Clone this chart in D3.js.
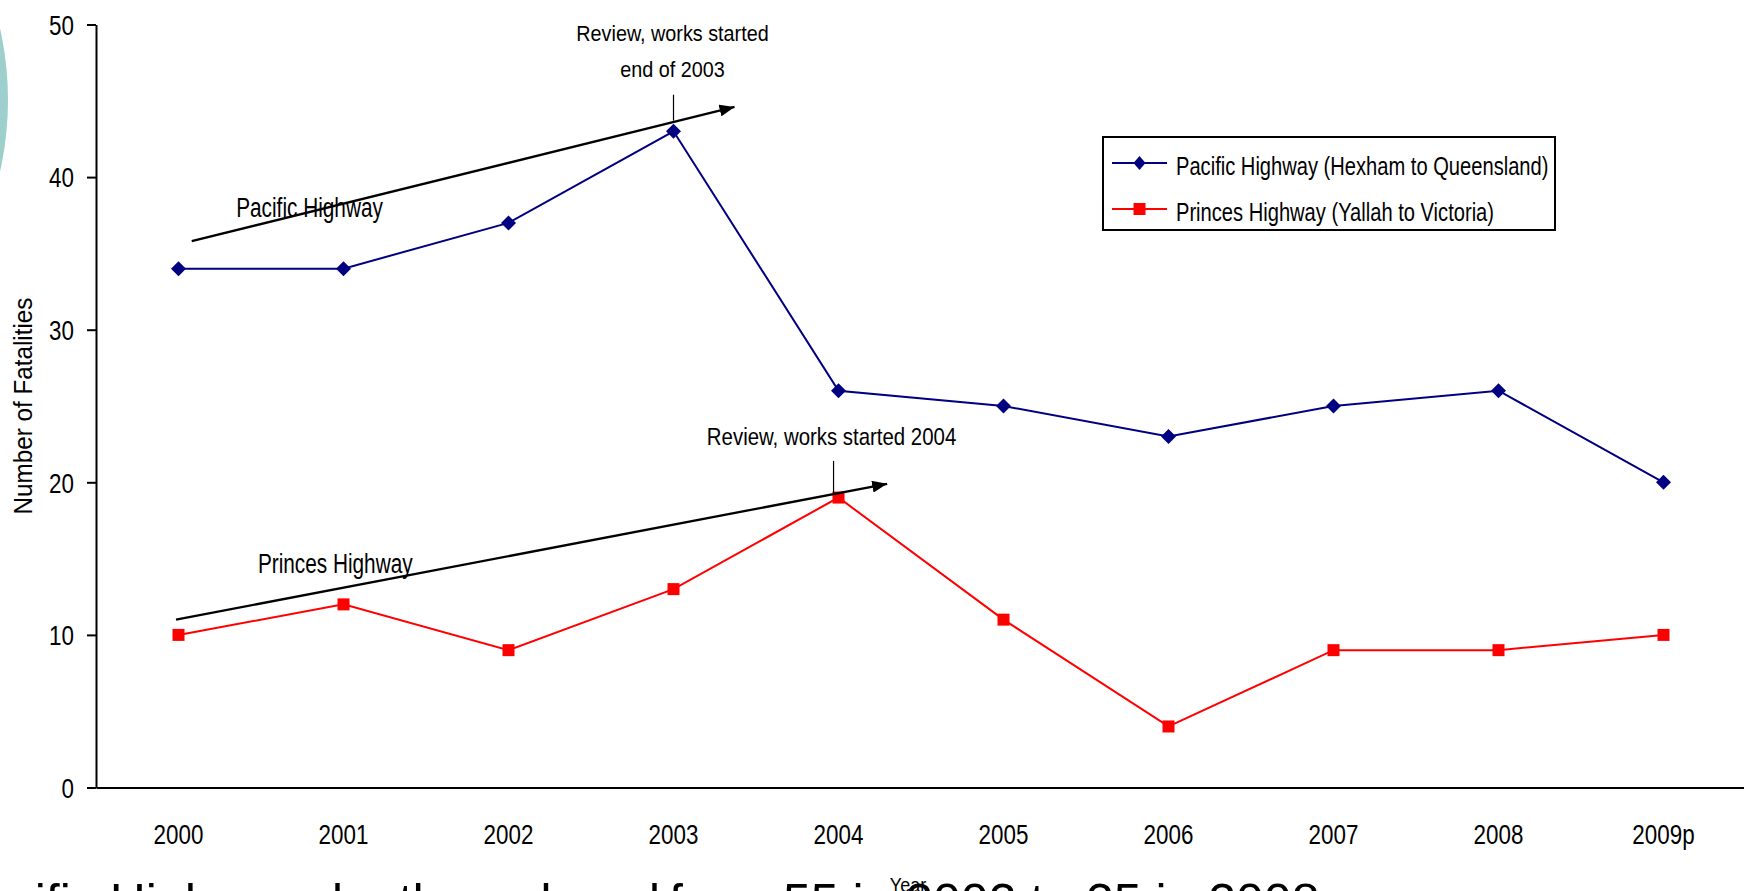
<!DOCTYPE html>
<html>
<head>
    <script src="https://cdnjs.cloudflare.com/ajax/libs/d3/7.8.5/d3.min.js"></script>
    <style>
        body { margin: 0; background: #fff; overflow: hidden; }
        text { font-family: "Liberation Sans", Arial, sans-serif; fill: #000; }
        .series { fill: none; stroke-width: 2; }
        .axis path { stroke: #000; stroke-width: 2; }
        .axis line { stroke: #000; stroke-width: 2; }
    </style>
</head>
<body>
    <svg width="1744" height="891"></svg>
    <script>
        // Data
        const years = ["2000", "2001", "2002", "2003", "2004", "2005", "2006", "2007", "2008", "2009p"];
        const pacific = [34, 34, 37, 43, 26, 25, 23, 25, 26, 20];
        const princes = [10, 12, 9, 13, 19, 11, 4, 9, 9, 10];
        const yTicks = [0, 10, 20, 30, 40, 50];
        const seriesNames = ["Pacific Highway (Hexham to Queensland)", "Princes Highway (Yallah to Victoria)"];

        // Annotations, in [category index, value]
        const arrowPacific = [[0.08, 35.8], [3.37, 44.6]];
        const arrowPrinces = [[-0.015, 11.0], [4.295, 19.9]];
        const tickPacific = [[3.0, 45.4], [3.0, 43.7]];
        const tickPrinces = [[3.97, 21.4], [3.97, 19.2]];
        const notePacific = ["Review, works started", "end of 2003"];
        const notePrinces = ["Review, works started 2004"];
        const labelPacific = { text: "Pacific Highway", at: [0.794, 37.4] };
        const labelPrinces = { text: "Princes Highway", at: [0.95, 14.05] };

        const svg = d3.select("svg");

        svg.append("rect").attr("width", 1744).attr("height", 891).attr("fill", "#fff");

        // slide decoration at the left edge
        svg.append("circle")
            .attr("cx", -317).attr("cy", 100).attr("r", 325)
            .attr("fill", "#9dcfcd");

        // Scales
        const x = d3.scaleBand().domain(years).range([96, 1746]);
        const xi = d3.scaleLinear().domain([-0.5, years.length - 0.5]).range([96, 1746]);
        const y = d3.scaleLinear().domain([0, 50]).range([787.5, 24.5]);

        // squeeze text horizontally (original is a narrow face)
        function squeeze(sel, sx) {
            sel.each(function() {
                const t = d3.select(this);
                const tx = +t.attr("x") || 0;
                t.attr("x", tx / sx).attr("transform", `scale(${sx},1)`);
            });
        }

        // Y axis
        const yAxis = svg.append("g")
            .attr("class", "axis")
            .attr("transform", "translate(96,0)")
            .call(d3.axisLeft(y).tickValues(yTicks).tickSize(9).tickSizeOuter(0).tickPadding(13));
        yAxis.selectAll("text").attr("font-size", 28).attr("font-family", null).attr("dy", "0.35em");
        squeeze(yAxis.selectAll("text"), 0.8);

        // X axis
        const xAxis = svg.append("g")
            .attr("class", "axis")
            .attr("transform", `translate(0,${y(0)})`)
            .call(d3.axisBottom(x).tickSize(0).tickSizeOuter(0).tickPadding(0));
        xAxis.selectAll("text").attr("font-size", 28).attr("font-family", null)
            .attr("dy", null).attr("y", 56.5);
        squeeze(xAxis.selectAll("text"), 0.8);

        // axis titles
        const yTitle = svg.append("g").attr("transform", `translate(32,${(y(0) + y(50)) / 2}) rotate(-90)`);
        yTitle.append("text").attr("text-anchor", "middle").attr("font-size", 26.5)
            .text("Number of Fatalities");
        squeeze(yTitle.selectAll("text"), 0.915);

        // series
        const line = d3.line().x((d, i) => x(years[i]) + x.bandwidth() / 2).y(d => y(d));

        svg.append("path").datum(pacific).attr("class", "series")
            .attr("stroke", "#000080").attr("d", line);
        svg.append("path").datum(princes).attr("class", "series")
            .attr("stroke", "#ff0000").attr("d", line);

        const diamond = "M0,-7.5L7.5,0L0,7.5L-7.5,0Z";
        svg.selectAll(".pac").data(pacific).enter().append("path")
            .attr("class", "pac")
            .attr("d", diamond)
            .attr("fill", "#000080")
            .attr("transform", (d, i) => `translate(${x(years[i]) + x.bandwidth() / 2},${y(d)})`);

        svg.selectAll(".pri").data(princes).enter().append("rect")
            .attr("class", "pri")
            .attr("x", (d, i) => x(years[i]) + x.bandwidth() / 2 - 6)
            .attr("y", d => y(d) - 6)
            .attr("width", 12).attr("height", 12)
            .attr("fill", "#ff0000");

        // arrows
        svg.append("defs").append("marker")
            .attr("id", "head")
            .attr("markerUnits", "userSpaceOnUse")
            .attr("markerWidth", 15).attr("markerHeight", 12)
            .attr("viewBox", "0 0 15 12")
            .attr("refX", 15).attr("refY", 6)
            .attr("orient", "auto")
            .append("path").attr("d", "M0,0L15,6L0,12Z").attr("fill", "#000");

        const pt = d3.line().x(d => xi(d[0])).y(d => y(d[1]));

        [arrowPacific, arrowPrinces].forEach(a => {
            svg.append("path").attr("d", pt(a))
                .attr("stroke", "#000").attr("stroke-width", 2.3).attr("fill", "none")
                .attr("marker-end", "url(#head)");
        });
        [tickPacific, tickPrinces].forEach(a => {
            svg.append("path").attr("d", pt(a))
                .attr("stroke", "#000").attr("stroke-width", 1.2).attr("fill", "none");
        });

        // notes
        const n1 = svg.append("g")
            .attr("transform", `translate(${xi(tickPacific[0][0]) - 1},${y(tickPacific[0][1])})`);
        n1.selectAll("text").data(notePacific.slice().reverse()).enter().append("text")
            .attr("text-anchor", "middle").attr("font-size", 22)
            .attr("y", (d, i) => -18 - i * 36)
            .text(d => d);
        squeeze(n1.selectAll("text"), 0.9);

        const n2 = svg.append("g")
            .attr("transform", `translate(${xi(tickPrinces[0][0]) - 2},${y(tickPrinces[0][1])})`);
        n2.selectAll("text").data(notePrinces).enter().append("text")
            .attr("text-anchor", "middle").attr("font-size", 24)
            .attr("y", -16)
            .text(d => d);
        squeeze(n2.selectAll("text"), 0.85);

        [labelPacific, labelPrinces].forEach(l => {
            const g = svg.append("g").attr("transform", `translate(${xi(l.at[0])},${y(l.at[1])})`);
            g.append("text").attr("text-anchor", "middle").attr("font-size", 27).text(l.text);
            squeeze(g.selectAll("text"), 0.77);
        });

        // legend
        const legend = svg.append("g").attr("transform", "translate(1103,137)");
        legend.append("rect").attr("width", 452).attr("height", 93)
            .attr("fill", "#fff").attr("stroke", "#000").attr("stroke-width", 2);
        const colors = ["#000080", "#ff0000"];
        seriesNames.forEach((name, i) => {
            const row = legend.append("g").attr("transform", `translate(0,${26 + i * 46})`);
            row.append("line").attr("x1", 9).attr("x2", 64)
                .attr("stroke", colors[i]).attr("stroke-width", 2);
            if (i === 0) {
                row.append("path").attr("d", "M0,-7L6,0L0,7L-6,0Z")
                    .attr("transform", "translate(36.5,0)").attr("fill", colors[i]);
            } else {
                row.append("rect").attr("x", 30.5).attr("y", -6)
                    .attr("width", 12).attr("height", 12).attr("fill", colors[i]);
            }
            const tg = row.append("g").attr("transform", "translate(73,11.5)");
            tg.append("text").attr("font-size", 26.5).text(name);
            squeeze(tg.selectAll("text"), 0.76);
        });

        // slide text underneath the chart (cut off by the page edge)
        svg.append("text").attr("x", 660).attr("y", 919).attr("text-anchor", "end")
            .attr("font-size", 50).text("Pacific Highway deaths reduced");
        svg.append("text").attr("x", 669).attr("y", 919)
            .attr("font-size", 50).text("from 55 in 2002 to 25 in 2008");

        const xTitle = svg.append("g").attr("transform", `translate(908,892)`);
        xTitle.append("text").attr("text-anchor", "middle").attr("font-size", 20).text("Year");
        squeeze(xTitle.selectAll("text"), 0.9);
    </script>
</body>
</html>
